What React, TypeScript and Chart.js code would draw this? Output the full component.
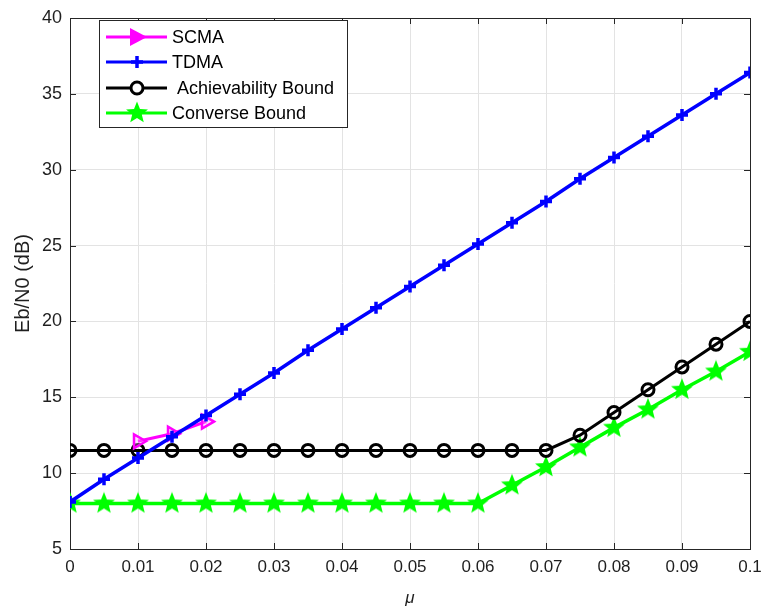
import React, { useEffect, useRef } from "react";
import { Chart, registerables } from "chart.js";
Chart.register(...registerables);

const muValues = [0, 0.005, 0.01, 0.015, 0.02, 0.025, 0.03, 0.035, 0.04, 0.045, 0.05, 0.055, 0.06, 0.065, 0.07, 0.075, 0.08, 0.085, 0.09, 0.095, 0.1];
const tdmaValues = [8.1, 9.6, 11.0, 12.4, 13.8, 15.2, 16.6, 18.1, 19.5, 20.9, 22.3, 23.7, 25.1, 26.5, 27.9, 29.4, 30.8, 32.2, 33.6, 35.0, 36.4];
const scmaMu = [0.01, 0.015, 0.02];
const scmaValues = [12.1, 12.6, 13.4];
const achievabilityValues = [11.5, 11.5, 11.5, 11.5, 11.5, 11.5, 11.5, 11.5, 11.5, 11.5, 11.5, 11.5, 11.5, 11.5, 11.5, 12.5, 14, 15.5, 17, 18.5, 20];
const converseValues = [8, 8, 8, 8, 8, 8, 8, 8, 8, 8, 8, 8, 8, 9.2, 10.4, 11.7, 13, 14.2, 15.5, 16.7, 18];
const xTicks = [0, 0.01, 0.02, 0.03, 0.04, 0.05, 0.06, 0.07, 0.08, 0.09, 0.1];
const yTicks = [5, 10, 15, 20, 25, 30, 35, 40];
const legendLabels = ["SCMA", "TDMA", " Achievability Bound", "Converse Bound"];

const FONT = "'Liberation Sans', Arial, sans-serif";
const AXIS_COLOR = "#1f1f1f";

function drawStarPath(ctx: CanvasRenderingContext2D, cx: number, cy: number, ro: number, ri: number) {
  ctx.beginPath();
  for (let i = 0; i < 10; i++) {
    const r = i % 2 === 0 ? ro : ri;
    const a = -Math.PI / 2 + (i * Math.PI) / 5;
    const x = cx + r * Math.cos(a);
    const y = cy + r * Math.sin(a);
    if (i === 0) ctx.moveTo(x, y);
    else ctx.lineTo(x, y);
  }
  ctx.closePath();
}

function makeStar(size: number, color: string) {
  const c = document.createElement("canvas");
  c.width = size;
  c.height = size;
  const ctx = c.getContext("2d")!;
  ctx.fillStyle = color;
  drawStarPath(ctx, size / 2, size / 2, size / 2 - 0.5, size / 2 * 0.42);
  ctx.fill();
  return c;
}

export default function App() {
  const ref = useRef<HTMLCanvasElement | null>(null);

  useEffect(() => {
    const canvas = ref.current;
    if (!canvas) return;
    const star = makeStar(24, "#00ff00");

    const framePlugin = {
      id: "frame",
      beforeDatasetsDraw(chart: any) {
        const { ctx, chartArea } = chart;
        const xs = chart.scales.x;
        const ys = chart.scales.y;
        ctx.save();
        ctx.strokeStyle = "#262626";
        ctx.lineWidth = 1;
        ctx.strokeRect(Math.round(chartArea.left) + 0.5, Math.round(chartArea.top) + 0.5, Math.round(chartArea.right - chartArea.left), Math.round(chartArea.bottom - chartArea.top));
        ctx.beginPath();
        const tl = 6;
        xTicks.forEach((v) => {
          const px = Math.round(xs.getPixelForValue(v)) + 0.5;
          ctx.moveTo(px, chartArea.bottom);
          ctx.lineTo(px, chartArea.bottom - tl);
          ctx.moveTo(px, chartArea.top);
          ctx.lineTo(px, chartArea.top + tl);
        });
        yTicks.forEach((v) => {
          const py = Math.round(ys.getPixelForValue(v)) + 0.5;
          ctx.moveTo(chartArea.left, py);
          ctx.lineTo(chartArea.left + tl, py);
          ctx.moveTo(chartArea.right, py);
          ctx.lineTo(chartArea.right - tl, py);
        });
        ctx.stroke();
        ctx.restore();
      },
    };

    const legendPlugin = {
      id: "customLegend",
      afterDraw(chart: any) {
        const { ctx } = chart;
        const bx = 99, by = 20, bw = 248, bh = 107;
        ctx.save();
        ctx.fillStyle = "#ffffff";
        ctx.fillRect(bx, by, bw, bh);
        ctx.strokeStyle = "#262626";
        ctx.lineWidth = 1;
        ctx.strokeRect(bx + 0.5, by + 0.5, bw, bh);
        const rows = [37, 62, 88, 113];
        const colors = ["#ff00ff", "#0000ff", "#000000", "#00ff00"];
        const x0 = 106, x1 = 167, mx = 137;
        rows.forEach((y, i) => {
          ctx.strokeStyle = colors[i];
          ctx.lineWidth = 3;
          ctx.beginPath();
          ctx.moveTo(x0, y);
          ctx.lineTo(x1, y);
          ctx.stroke();
          if (i === 0) {
            ctx.fillStyle = colors[i];
            ctx.beginPath();
            ctx.moveTo(mx - 7, y - 9);
            ctx.lineTo(mx + 10, y);
            ctx.lineTo(mx - 7, y + 9);
            ctx.closePath();
            ctx.fill();
          } else if (i === 1) {
            ctx.lineWidth = 3.5;
            ctx.beginPath();
            ctx.moveTo(mx - 6, y);
            ctx.lineTo(mx + 6, y);
            ctx.moveTo(mx, y - 6);
            ctx.lineTo(mx, y + 6);
            ctx.stroke();
          } else if (i === 2) {
            ctx.beginPath();
            ctx.arc(mx, y, 6, 0, Math.PI * 2);
            ctx.fillStyle = "#ffffff";
            ctx.fill();
            ctx.stroke();
          } else {
            ctx.drawImage(star, mx - 12, y - 12);
          }
          ctx.fillStyle = "#000000";
          ctx.font = `18px ${FONT}`;
          ctx.textBaseline = "middle";
          ctx.textAlign = "left";
          ctx.fillText(legendLabels[i], 172, y + 1);
        });
        ctx.restore();
      },
    };

    const chart = new Chart(canvas, {
      type: "line",
      data: {
        datasets: [
          {
            label: legendLabels[0],
            data: scmaMu.map((m, i) => ({ x: m, y: scmaValues[i] })),
            borderColor: "#ff00ff",
            backgroundColor: "rgba(255,0,255,0)",
            borderWidth: 3,
            pointStyle: "triangle",
            rotation: 90,
            pointRadius: 8,
            pointBorderWidth: 2.5,
            pointBorderColor: "#ff00ff",
            pointBackgroundColor: "rgba(255,160,255,0.35)",
            order: 1,
          },
          {
            label: legendLabels[1],
            data: muValues.map((m, i) => ({ x: m, y: tdmaValues[i] })),
            borderColor: "#0000ff",
            backgroundColor: "#0000ff",
            borderWidth: 3.5,
            pointStyle: "cross",
            pointRadius: 6,
            pointBorderWidth: 3.5,
            pointBorderColor: "#0000ff",
            order: 0,
          },
          {
            label: legendLabels[2],
            data: muValues.map((m, i) => ({ x: m, y: achievabilityValues[i] })),
            borderColor: "#000000",
            backgroundColor: "rgba(0,0,0,0)",
            borderWidth: 3,
            pointStyle: "circle",
            pointRadius: 6,
            pointBorderWidth: 3,
            pointBorderColor: "#000000",
            pointBackgroundColor: "rgba(0,0,0,0)",
            order: 2,
          },
          {
            label: legendLabels[3],
            data: muValues.map((m, i) => ({ x: m, y: converseValues[i] })),
            borderColor: "#00ff00",
            backgroundColor: "#00ff00",
            borderWidth: 3.5,
            pointStyle: star as any,
            pointRadius: 12,
            order: 3,
          },
        ],
      },
      options: {
        responsive: false,
        animation: false,
        events: [],
        layout: { autoPadding: false, padding: { top: 18, right: 12, left: 0, bottom: 0 } },
        plugins: { legend: { display: false }, tooltip: { enabled: false } },
        scales: {
          x: {
            type: "linear",
            min: 0,
            max: 0.1,
            afterBuildTicks: (s: any) => {
              s.ticks = xTicks.map((v) => ({ value: v }));
            },
            afterFit: (s: any) => {
              s.height = 66;
              s.paddingRight = 0;
              s.paddingLeft = 0;
            },
            ticks: {
              callback: (v: any) => String(+Number(v).toFixed(3)),
              color: AXIS_COLOR,
              font: { size: 17, family: FONT },
              padding: 8,
              maxRotation: 0,
              autoSkip: false,
            },
            grid: { color: "#e3e3e3", drawTicks: false, lineWidth: 1 },
            border: { display: false },
            title: {
              display: true,
              text: "μ",
              color: AXIS_COLOR,
              font: { size: 17, family: FONT, style: "italic" },
              padding: { top: 0, bottom: 7 },
            },
          },
          y: {
            type: "linear",
            min: 5,
            max: 40,
            afterBuildTicks: (s: any) => {
              s.ticks = yTicks.map((v) => ({ value: v }));
            },
            afterFit: (s: any) => {
              s.width = 70;
              s.paddingTop = 0;
              s.paddingBottom = 0;
            },
            ticks: {
              color: AXIS_COLOR,
              font: { size: 18, family: FONT },
              padding: 8,
            },
            grid: { color: "#e3e3e3", drawTicks: false, lineWidth: 1 },
            border: { display: false },
            title: {
              display: true,
              text: "Eb/N0 (dB)",
              color: AXIS_COLOR,
              font: { size: 20, family: FONT },
              padding: { top: 11, bottom: 0 },
            },
          },
        },
      },
      plugins: [framePlugin, legendPlugin],
    });
    return () => chart.destroy();
  }, []);

  return (
    <div style={{ position: "absolute", left: 0, top: 0, width: 762, height: 615, background: "#ffffff" }}>
      <canvas ref={ref} width={762} height={615} style={{ display: "block" }} />
    </div>
  );
}
